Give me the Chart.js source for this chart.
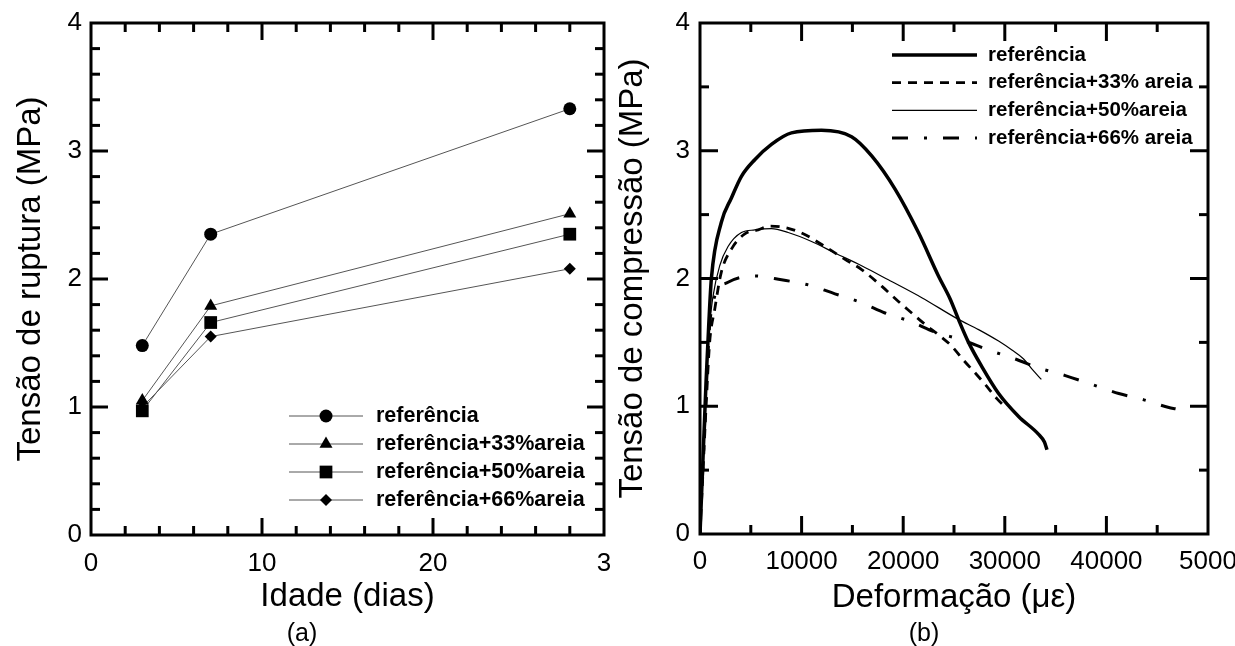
<!DOCTYPE html>
<html lang="pt">
<head>
<meta charset="utf-8">
<title>Tensão de ruptura e compressão</title>
<script src="https://cdn.jsdelivr.net/npm/chart.js@4.4.1/dist/chart.umd.min.js"></script>
<style>
  html, body { margin: 0; padding: 0; background: #fff; }
  #page { position: relative; width: 1235px; height: 646px; overflow: hidden; }
  .panel { position: absolute; top: 0; }
  .cap {
    position: absolute; top: 620px; transform: translateX(-50%);
    font: 25px/25px "Liberation Sans", Arial, sans-serif; color: #000;
  }
</style>
</head>
<body>
<div id="page">
  <canvas id="chartA" class="panel" style="left:0" width="618" height="646"></canvas>
  <canvas id="chartB" class="panel" style="left:618px" width="617" height="646"></canvas>
  <div class="cap" style="left:302px">(a)</div>
  <div class="cap" style="left:924px">(b)</div>
</div>
<script>
const FONT = '"Liberation Sans", Arial, Helvetica, sans-serif';

// (a) tensão de ruptura x idade
const ageDays = [3, 7, 28];
const rupRef  = [1.48, 2.35, 3.33];
const rup33   = [1.05, 1.79, 2.51];
const rup50   = [0.97, 1.66, 2.35];
const rup66   = [1.00, 1.55, 2.08];
const labelsA = ['referência', 'referência+33%areia', 'referência+50%areia', 'referência+66%areia'];
const ageTickLabels = ['0', '10', '20', '3'];

// (b) tensão x deformação
const labelsB = ['referência', 'referência+33% areia', 'referência+50%areia', 'referência+66% areia'];
const strainTickLabels = ['0', '10000', '20000', '30000', '40000', '5000'];

const refStrain = [0, 300, 600, 850, 1120, 2100, 3090, 4080, 5390, 7030, 9000, 11960, 14920, 16900,
                   19200, 21500, 23470, 24620, 25440, 26430, 27740, 29390, 31360, 33330, 33900, 34150];
const refStress = [0, 0.60, 1.20, 1.62, 2.00, 2.44, 2.63, 2.80, 2.93, 3.05, 3.14, 3.16, 3.11, 2.96,
                   2.70, 2.36, 2.02, 1.84, 1.68, 1.50, 1.31, 1.10, 0.92, 0.78, 0.72, 0.66];

const s33Strain = [0, 300, 600, 950, 1450, 2100, 3090, 4410, 5720, 6870, 8350, 10160, 12300, 14270,
                   15910, 17880, 19530, 20840, 22160, 23470, 24780, 25940, 27090, 28080, 29220, 30210];
const s33Stress = [0, 0.50, 1.00, 1.50, 1.76, 2.05, 2.23, 2.35, 2.38, 2.41, 2.40, 2.35, 2.25, 2.15,
                   2.07, 1.94, 1.82, 1.73, 1.64, 1.56, 1.47, 1.36, 1.26, 1.17, 1.06, 0.98];

const s50Strain = [0, 250, 500, 790, 1280, 1940, 2760, 4080, 5390, 7030, 8680, 10980, 13280, 15910,
                   18540, 21830, 25440, 27420, 29390, 30700, 31850, 32680, 33600];
const s50Stress = [0, 0.50, 1.00, 1.50, 1.86, 2.10, 2.25, 2.36, 2.38, 2.39, 2.36, 2.29, 2.20, 2.10,
                   1.99, 1.85, 1.68, 1.60, 1.51, 1.44, 1.37, 1.29, 1.21];

const s66Strain = [0, 300, 600, 950, 1450, 2760, 5390, 8020, 10650, 13280, 15910, 18210, 20840, 23150,
                   25770, 28400, 31040, 33330, 35960, 38590, 41220, 43690, 46150, 46810];
const s66Stress = [0, 0.55, 1.10, 1.63, 1.86, 1.97, 2.02, 1.99, 1.95, 1.88, 1.81, 1.73, 1.66, 1.58,
                   1.52, 1.44, 1.37, 1.30, 1.24, 1.17, 1.10, 1.05, 0.99, 0.98];

function xy(xs, ys) {
  return xs.map((x, i) => ({ x: x, y: ys[i] }));
}

function drawMarker(ctx, style, x, y, r) {
  ctx.beginPath();
  if (style === 'circle') {
    ctx.arc(x, y, r, 0, Math.PI * 2);
  } else if (style === 'triangle') {
    for (let k = 0; k < 3; k++) {
      const a = k * 2 * Math.PI / 3;
      const px = x + Math.sin(a) * r, py = y - Math.cos(a) * r;
      k ? ctx.lineTo(px, py) : ctx.moveTo(px, py);
    }
    ctx.closePath();
  } else if (style === 'rect') {
    const s = r * Math.SQRT1_2;
    ctx.rect(x - s, y - s, 2 * s, 2 * s);
  } else if (style === 'rectRot') {
    ctx.moveTo(x - r, y); ctx.lineTo(x, y - r); ctx.lineTo(x + r, y); ctx.lineTo(x, y + r);
    ctx.closePath();
  }
  ctx.fill();
}

// box round the plot area with inward major/minor ticks on all four sides
const frameTicks = {
  id: 'frameTicks',
  afterDatasetsDraw(chart, args, o) {
    const { ctx, chartArea: a } = chart;
    const xs = chart.scales.x, ys = chart.scales.y;
    ctx.save();
    ctx.strokeStyle = '#000';
    ctx.lineWidth = o.width;
    ctx.setLineDash([]);
    const seg = (x1, y1, x2, y2) => { ctx.beginPath(); ctx.moveTo(x1, y1); ctx.lineTo(x2, y2); ctx.stroke(); };

    let n = Math.round((xs.max - xs.min) / o.xMinor);
    let ratio = Math.round(o.xMajor / o.xMinor);
    for (let k = 1; k < n; k++) {
      const px = xs.getPixelForValue(xs.min + k * o.xMinor);
      const len = k % ratio === 0 ? o.major : o.minor;
      seg(px, a.bottom, px, a.bottom - len);
      seg(px, a.top, px, a.top + len);
    }
    n = Math.round((ys.max - ys.min) / o.yMinor);
    ratio = Math.round(o.yMajor / o.yMinor);
    for (let k = 1; k < n; k++) {
      const py = ys.getPixelForValue(ys.min + k * o.yMinor);
      const len = k % ratio === 0 ? o.major : o.minor;
      seg(a.left, py, a.left + len, py);
      seg(a.right, py, a.right - len, py);
    }
    ctx.strokeRect(a.left, a.top, a.right - a.left, a.bottom - a.top);
    ctx.restore();
  }
};

// legend drawn inside the plot, line sample + marker + label
const seriesKey = {
  id: 'seriesKey',
  afterDraw(chart, args, o) {
    const ctx = chart.ctx;
    ctx.save();
    chart.data.datasets.forEach((ds, i) => {
      const y = o.y0 + i * o.dy;
      ctx.strokeStyle = ds.borderColor;
      ctx.lineWidth = ds.borderWidth;
      ctx.setLineDash(ds.borderDash || []);
      ctx.beginPath();
      ctx.moveTo(o.x0, y);
      ctx.lineTo(o.x1, y);
      ctx.stroke();
      ctx.setLineDash([]);
      if (ds.pointRadius > 0) {
        ctx.fillStyle = '#000';
        drawMarker(ctx, ds.pointStyle, (o.x0 + o.x1) / 2, y, ds.pointRadius);
      }
      ctx.fillStyle = '#000';
      ctx.font = 'bold ' + o.size + 'px ' + FONT;
      ctx.textBaseline = 'middle';
      ctx.textAlign = 'left';
      ctx.fillText(ds.label, o.textX, y);
    });
    ctx.restore();
  }
};

function axis(min, max, step, labels, title, pad, fit, isX) {
  return {
    type: 'linear', min: min, max: max,
    grid: { display: false, drawTicks: false },
    border: { display: false },
    ticks: {
      stepSize: step, autoSkip: false, maxRotation: 0, color: '#000',
      padding: pad.tick,
      font: { family: FONT, size: 26 },
      callback: labels ? (v, i) => labels[i] : undefined
    },
    title: {
      display: true, text: title, color: '#000',
      font: { family: FONT, size: 33, lineHeight: 1 },
      padding: pad.title
    },
    afterFit: s => {
      if (isX) { s.height = fit; s.paddingLeft = 0; s.paddingRight = 0; }
      else { s.width = fit; s.paddingTop = 0; s.paddingBottom = 0; }
    }
  };
}

const base = {
  responsive: false,
  animation: false,
  devicePixelRatio: 1,
  events: []
};

const lineA = { showLine: true, borderColor: '#555', borderWidth: 1,
                pointBackgroundColor: '#000', pointBorderColor: '#000', pointBorderWidth: 0 };

new Chart(document.getElementById('chartA'), {
  type: 'scatter',
  data: {
    datasets: [
      { ...lineA, label: labelsA[0], data: xy(ageDays, rupRef), pointStyle: 'circle',   pointRadius: 6.5 },
      { ...lineA, label: labelsA[1], data: xy(ageDays, rup33),  pointStyle: 'triangle', pointRadius: 7.5 },
      { ...lineA, label: labelsA[2], data: xy(ageDays, rup50),  pointStyle: 'rect',     pointRadius: 9 },
      { ...lineA, label: labelsA[3], data: xy(ageDays, rup66),  pointStyle: 'rectRot',  pointRadius: 6 }
    ]
  },
  options: {
    ...base,
    layout: { padding: { left: 0, top: 23, right: 14, bottom: 0 } },
    plugins: {
      legend: { display: false },
      tooltip: { enabled: false },
      frameTicks: { xMinor: 2, xMajor: 10, yMinor: 0.2, yMajor: 1, major: 17, minor: 9, width: 3 },
      seriesKey: { x0: 289, x1: 363, textX: 376, y0: 416, dy: 28, size: 21.5 }
    },
    scales: {
      x: axis(0, 30, 10, ageTickLabels, 'Idade (dias)', { tick: 13, title: { top: 0, bottom: 33 } }, 111, true),
      y: axis(0, 4, 1, null, 'Tensão de ruptura (MPa)', { tick: 9, title: { top: 14, bottom: 0 } }, 91, false)
    }
  },
  plugins: [frameTicks, seriesKey]
});

const lineB = { showLine: true, borderColor: '#000', pointRadius: 0, cubicInterpolationMode: 'monotone' };

new Chart(document.getElementById('chartB'), {
  type: 'scatter',
  data: {
    datasets: [
      { ...lineB, label: labelsB[0], data: xy(refStrain, refStress), borderWidth: 3.5 },
      { ...lineB, label: labelsB[1], data: xy(s33Strain, s33Stress), borderWidth: 2.8, borderDash: [9, 7] },
      { ...lineB, label: labelsB[2], data: xy(s50Strain, s50Stress), borderWidth: 1.2 },
      { ...lineB, label: labelsB[3], data: xy(s66Strain, s66Stress), borderWidth: 3, borderDash: [16, 16, 3, 16] }
    ]
  },
  options: {
    ...base,
    layout: { padding: { left: 0, top: 23, right: 27, bottom: 0 } },
    plugins: {
      legend: { display: false },
      tooltip: { enabled: false },
      frameTicks: { xMinor: 5000, xMajor: 10000, yMinor: 0.5, yMajor: 1, major: 18, minor: 9, width: 3 },
      seriesKey: { x0: 274, x1: 359, textX: 370, y0: 55, dy: 27.7, size: 20.5 }
    },
    scales: {
      x: axis(0, 50000, 10000, strainTickLabels, 'Deformação (με)', { tick: 12, title: { top: 0, bottom: 32 } }, 112, true),
      y: axis(0, 4, 1, null, 'Tensão de compressão (MPa)', { tick: 10, title: { top: -2, bottom: 0 } }, 82, false)
    }
  },
  plugins: [frameTicks, seriesKey]
});
</script>
</body>
</html>
